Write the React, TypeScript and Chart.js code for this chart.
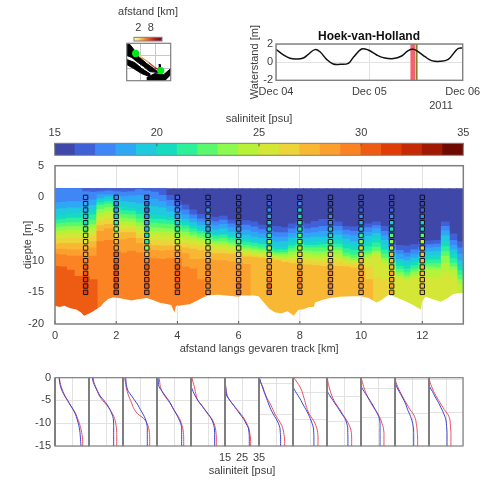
import React, { useEffect, useRef } from "react";
import { Chart, registerables } from "chart.js";

const INK = "#404040";
const FRAME = "#7f7f7f";
const GRID = "#e2e2e2";

// --- water level
const tideHours = [0, 1.9, 3.6, 5.3, 7, 8.3, 10, 11.3, 13, 14.7, 16.5, 18.6, 19.9, 22, 23.7, 25.9, 27.6, 30.2, 32.3, 34, 35.3, 36.8, 38.3, 40, 42.2, 44.3, 46, 46.9, 48];
const tideLevel = [1.41, 0.8, 0.42, 0.35, 0.46, 0.86, 1.38, 1.15, 0.31, -0.2, -0.24, -0.13, 0.53, 1.45, 1.34, 0.79, 0.5, 0.39, 0.68, 1.27, 1.41, 1.08, 0.6, 0.17, 0.09, 0.31, 1.15, 1.52, 1.56];
const tideDates = ["Dec 04", "Dec 05", "Dec 06"];

// --- map inset (map units)
const landNorth = [[0, 36], [3, 36], [7, 31], [9, 27], [13, 23], [20, 17], [27, 12], [32, 8], [23, 9], [17, 14], [10, 19], [5, 23], [0, 25]];
const landSouth = [[0, 21], [8, 18], [15, 12], [23, 7], [23, 4], [15, 7], [7, 12], [0, 16]];
const landEast = [[20, 3], [28, 7], [37, 6], [44, 12], [44, 6], [38, 0], [20, 0]];
const landIslet = [[32, 16], [33.5, 16], [33.5, 13], [32, 13]];
const trackX = [9, 15, 22, 28, 34];
const trackY = [27, 23, 18, 13, 10];
const trackColors = ["#f5d060", "#e89a40", "#c8502a", "#8e1a20"];
const distanceKm = [0.5, 1.5, 2.5, 3.5, 4.5, 5.5, 6.5, 7.5, 8.5, 9.5, 10.5, 11.5, 12.5, 13.5];
const distanceColors = ["#fff2c0", "#fde8a0", "#fbd878", "#f8c058", "#f5a540", "#f08a30", "#e87028", "#de5822", "#d0401e", "#bc2c1e", "#a81e20", "#941622", "#801020", "#801020"];

// --- colour scale: one entry per psu from 15 to 34
const salinityColors = ["#3f48a8", "#4060d8", "#3f86f6", "#2ea8f5", "#1fc9de", "#15dcc0", "#2cf09a", "#5af86c", "#8cfa4e", "#b8f238", "#d4e636", "#ecd43a", "#f8b834", "#fb9f2e", "#fb8324", "#ee5c14", "#e03c08", "#c42a04", "#a01a02", "#6e0a00"];
const salinityBins = [15.5, 16.5, 17.5, 18.5, 19.5, 20.5, 21.5, 22.5, 23.5, 24.5, 25.5, 26.5, 27.5, 28.5, 29.5, 30.5, 31.5, 32.5, 33.5, 34.5];

// --- section: depth of each psu boundary per column
const columnKm = [0, 0.25, 0.5, 0.75, 1, 1.25, 1.5, 1.75, 2, 2.25, 2.5, 2.75, 3, 3.25, 3.5, 3.75, 4, 4.25, 4.5, 4.75, 5, 5.25, 5.5, 5.75, 6, 6.25, 6.5, 6.75, 7, 7.25, 7.5, 7.75, 8, 8.25, 8.5, 8.75, 9, 9.25, 9.5, 9.75, 10, 10.25, 10.5, 10.75, 11, 11.25, 11.5, 11.75, 12, 12.25, 12.5, 12.75, 13, 13.25];
const surface = [1.35, 1.35, 1.35, 1.35, 1.35, 1.35, 1.35, 1.35, 1.35, 1.35, 1.35, 1.35, 1.35, 1.35, 1.35, 1.35, 1.35, 1.35, 1.35, 1.35, 1.35, 1.35, 1.35, 1.35, 1.35, 1.35, 1.35, 1.35, 1.35, 1.35, 1.35, 1.35, 1.35, 1.35, 1.35, 1.35, 1.35, 1.35, 1.35, 1.35, 1.35, 1.35, 1.35, 1.35, 1.35, 1.35, 1.35, 1.35, 1.35, 1.35, 1.35, 1.35, 1.35, 1.35];
const iso16 = [1.35, 1.35, 1.35, 1.35, 1.35, 1.35, 1.35, 1.35, 1.35, 1.35, 1.35, 1.35, 1.35, 1.35, 1.35, 0.3, -0.7, -1.2, -2, -2.7, -3, -3.2, -3, -3.6, -3.9, -3.7, -3.9, -4.4, -4.6, -4.6, -4.8, -4.2, -3.9, -4.2, -3.8, -3.5, -3.5, -3.9, -4.6, -4.7, -4.6, -4.2, -3.9, -4.6, -6.9, -7.6, -7.7, -7.5, -7, -6.9, -6.8, -3.9, -5.8, -7];
const iso17 = [1.35, 1.35, 1.35, 1.35, 0.9, 0.8, 0.9, 1, 0.9, 0.8, 0.9, 1.2, 1, 0.8, 0.3, -0.5, -1.3, -2, -2.8, -3.4, -3.7, -3.9, -3.6, -4.2, -4.6, -4.4, -4.7, -5.1, -5.4, -5.6, -5.6, -5, -4.6, -5, -4.8, -4.6, -4.6, -4.6, -5.2, -5.4, -5.4, -4.8, -4.5, -5.4, -7.6, -8.4, -8.8, -8.3, -7.9, -7.5, -7.4, -4.6, -6.8, -8];
const iso18 = [-0.9, -0.8, -0.7, -0.7, -0.7, -0.4, 0.4, 0.4, 0.3, 0.1, 0.2, 0.3, 0, -0.3, -0.7, -1.4, -2.2, -2.8, -3.4, -3.9, -4.2, -4.5, -4.3, -4.8, -5.3, -5.2, -5.5, -5.8, -6.1, -6.3, -6.3, -5.7, -5.3, -5.7, -5.6, -5.4, -5.4, -5.3, -5.9, -6.1, -6.1, -5.5, -5, -6.1, -8.1, -9, -9.4, -9, -8.6, -8, -7.9, -5.3, -7.6, -9];
const iso19 = [-1.9, -1.8, -1.7, -1.7, -1.6, -1.3, -0.2, 0.1, -0.2, -0.7, -0.8, -1, -1.2, -1.5, -1.7, -2.3, -2.9, -3.5, -4, -4.5, -4.9, -5.2, -5, -5.5, -6, -6, -6.3, -6.5, -6.9, -7.1, -7, -6.4, -6.1, -6.4, -6.3, -6.3, -6.2, -6, -6.6, -7, -7, -6.2, -5.7, -6.8, -8.7, -9.8, -10, -9.6, -9.2, -8.6, -8.5, -6.1, -8.3, -10];
const iso20 = [-3, -2.9, -2.7, -2.5, -2.4, -2.1, -0.5, -0.3, -0.9, -1.5, -1.7, -2.1, -2.5, -2.8, -2.9, -3.2, -3.5, -4, -4.6, -5.1, -5.5, -5.9, -5.8, -6.1, -6.6, -6.7, -7, -7.2, -7.7, -7.9, -7.9, -7.2, -6.9, -7.2, -7, -7, -6.9, -6.8, -7.4, -7.7, -7.7, -7, -6.4, -7.6, -9.2, -10.3, -10.7, -10.2, -9.8, -9.2, -9.2, -7, -9, -10.9];
const iso21 = [-3.6, -3.5, -3.3, -3.3, -3.1, -2.8, -0.9, -0.7, -1.6, -2.1, -2.2, -2.7, -3.3, -3.5, -3.5, -3.7, -4, -4.5, -5, -5.4, -5.8, -6.1, -6, -6.4, -7, -7.1, -7.3, -7.5, -8.1, -8.3, -8.3, -7.7, -7.3, -7.6, -7.6, -7.5, -7.4, -7.4, -8.1, -8.4, -8.4, -7.8, -7.2, -8.3, -9.8, -10.9, -11.3, -10.8, -10.3, -9.9, -9.9, -7.8, -9.7, -11.6];
const iso22 = [-4.2, -4.1, -4, -4, -3.9, -3.6, -1.3, -1.1, -2.3, -2.7, -2.8, -3.4, -4, -4.1, -4.2, -4.3, -4.6, -5, -5.5, -5.8, -6.2, -6.6, -6.5, -6.9, -7.5, -7.6, -7.8, -8, -8.5, -8.7, -8.7, -8.1, -7.7, -8, -8, -8, -7.9, -7.9, -8.8, -9.1, -9.1, -8.5, -7.9, -9, -10.3, -11.4, -11.9, -11.3, -10.8, -10.5, -10.5, -8.6, -10.4, -12.3];
const iso23 = [-4.8, -4.7, -4.6, -4.6, -4.5, -4.3, -1.9, -1.6, -3, -3.3, -3.4, -4, -4.7, -4.8, -4.9, -5, -5.2, -5.5, -6, -6.3, -6.7, -7, -7, -7.3, -7.9, -8, -8.2, -8.4, -8.8, -9, -9, -8.6, -8.3, -8.5, -8.6, -8.6, -8.5, -8.4, -9.3, -9.6, -9.6, -9, -8.5, -9.6, -10.8, -11.9, -12.4, -11.8, -11.3, -11, -11.1, -9.3, -11, -13];
const iso24 = [-5.4, -5.3, -5.2, -5.2, -5.1, -4.9, -2.5, -2.2, -3.6, -3.9, -4, -4.6, -5.3, -5.4, -5.5, -5.6, -5.8, -6.1, -6.4, -6.7, -7.1, -7.4, -7.4, -7.7, -8.2, -8.3, -8.5, -8.7, -9.1, -9.3, -9.4, -9.1, -8.8, -9, -9.2, -9.1, -9.1, -9, -9.7, -10, -10, -9.4, -8.8, -10, -11.2, -12.4, -12.8, -12.3, -11.8, -11.4, -11.4, -10.4, -11.5, -13.8];
const iso25 = [-6, -5.9, -5.8, -5.8, -5.7, -5.5, -3.1, -2.8, -4.2, -4.4, -4.6, -5.2, -5.9, -6, -6.2, -6.2, -6.4, -6.7, -6.9, -7.1, -7.5, -7.8, -7.8, -8.1, -8.5, -8.7, -8.9, -9, -9.3, -9.6, -9.7, -9.5, -9.3, -9.5, -9.7, -9.7, -9.7, -9.6, -10, -10.2, -10.2, -9.7, -9.3, -10.5, -11.7, -12.7, -13.2, -12.7, -12.5, -12.6, -12.8, -12, -12.6, -20];
const iso26 = [-6.7, -6.6, -6.5, -6.5, -6.4, -6.2, -3.8, -3.5, -4.9, -5, -5, -5.8, -6.6, -6.8, -6.9, -6.9, -7, -7.3, -7.5, -7.7, -8.1, -8.3, -8.3, -8.6, -8.9, -9.1, -9.3, -9.4, -9.5, -9.8, -10, -10, -9.9, -10, -10.2, -10.3, -10.3, -10.2, -10.5, -10.5, -10.6, -11, -12.7, -13];
const iso27 = [-7.4, -7.3, -7.3, -7.3, -7.3, -7, -4.5, -4.3, -5.9, -5.6, -5.6, -6.5, -7.3, -7.6, -7.7, -7.7, -7.7, -8, -8.2, -8.4, -8.8, -8.9, -8.9, -9, -9.3, -9.4, -9.5, -9.6, -9.7, -10, -10.3, -10.5, -10.6, -10.7, -10.8, -10.9, -10.9, -10.9, -11, -11.2, -11.3, -13];
const iso28 = [-8.2, -8.2, -8.3, -8.3, -8.3, -8, -5.4, -5, -6.9, -6.7, -6.5, -7.3, -8, -8.4, -8.5, -8.4, -8.4, -8.9, -9.8, -9.8, -9.8, -10, -10, -10.2, -10.4, -10.6];
const iso29 = [-9, -9.1, -9.3, -9.3, -9.4, -9.3, -7, -6.8, -8.5, -8.8, -8.5, -8.8, -9.5, -9.7, -9.8, -9.7, -9.6, -11, -11.3, -13];
const iso30 = [-10.9, -11, -11.5, -12.5, -12.5, -13];
const bandTops = [surface, iso16, iso17, iso18, iso19, iso20, iso21, iso22, iso23, iso24, iso25, iso26, iso27, iso28, iso29, iso30];

const bedKm = [0, 0.15, 0.3, 0.5, 0.7, 0.85, 0.95, 1.1, 1.25, 1.4, 1.5, 1.6, 1.75, 1.9, 2.1, 2.3, 2.5, 2.7, 3, 3.2, 3.4, 3.6, 3.8, 3.9, 3.95, 4.2, 4.4, 4.6, 4.8, 5, 5.3, 5.6, 6, 6.1, 6.5, 6.65, 6.8, 7, 7.2, 7.4, 7.6, 7.8, 7.95, 8.1, 8.3, 8.45, 8.5, 8.8, 9, 9.3, 9.7, 10, 10.25, 10.5, 10.65, 10.9, 11.1, 11.4, 11.7, 11.95, 12, 12.1, 12.3, 12.6, 12.8, 13, 13.2, 13.34];
const bedDepth = [-17.1, -17.3, -17.1, -17.5, -17.7, -18.2, -18.7, -18.4, -18, -17.5, -17.2, -16.6, -16, -15.8, -15.9, -16.1, -16.3, -16.1, -15.9, -16.2, -16.6, -16.8, -17, -18.2, -17.2, -17, -16.9, -16.4, -15.9, -15.5, -15.4, -15.5, -15.7, -15.5, -15.5, -15.6, -16.5, -17.6, -18.2, -18.3, -18, -18.7, -17.8, -17.7, -17.3, -17.3, -16.6, -16.1, -15.9, -15.7, -15.6, -15.6, -15.9, -16.6, -16.3, -15.4, -15.7, -16.3, -17, -17.7, -16.5, -15.7, -16, -16.5, -16, -15.3, -15.1, -15.1];

// --- CTD stations
const stationKm = [1, 2, 3, 4, 5, 6, 7, 8, 9, 10, 11, 12];
const profileDepth = [0, -1, -2, -3, -4, -5, -6, -7, -8, -9, -10, -11, -12, -13, -14, -15];
const redProfiles = [
  [17.5, 18, 18.7, 19.7, 20.9, 22.3, 24, 25.8, 27.3, 28.3, 29.3, 30.1, 30.7, 31.1, 31.3, 31.3],
  [17.4, 17.9, 18.9, 19.9, 21.1, 23, 25.4, 27.3, 28.9, 30.1, 30.7, 31.1, 31.3, 31.3, 31.3, 31.3],
  [16, 16.4, 16.8, 17.5, 18.3, 19.5, 20.5, 21.7, 23.8, 27.3, 29.1, 30.1, 30.5, 30.7, 30.7, 30.7],
  [16.2, 16.6, 17, 17.9, 19.5, 21.5, 23.4, 24.8, 26.6, 28.3, 29.3, 30.1, 30.5, 30.7, 30.7, 30.7],
  [15.6, 16.2, 17, 17.5, 18.1, 18.9, 21.1, 23.2, 25.2, 27.2, 28.5, 29.3, 29.7, 29.9, 29.9, 29.9],
  [15, 15.2, 15.4, 15.8, 16.4, 17.9, 19.9, 22.2, 24.4, 26.3, 27.7, 28.9, 29.5, 29.9, 30.1, 30.1],
  [15.2, 16, 17.2, 18.1, 19.1, 20.5, 21.9, 23.2, 24.4, 26, 27.7, 28.9, 29.5, 29.9, 30.1, 30.1],
  [15.4, 17.4, 19.1, 20.3, 21.1, 21.9, 22.6, 23.4, 24.6, 26.4, 27.9, 28.9, 29.5, 29.7, 29.7, 29.7],
  [15.2, 15.6, 16.2, 17, 17.9, 19.1, 20.7, 22.6, 24.2, 26, 27.5, 28.7, 29.3, 29.5, 29.5, 29.5],
  [15, 15.8, 16.6, 17.5, 18.7, 19.9, 21.5, 23.2, 25, 26.4, 27.3, 28.1, 28.5, 28.5, 28.5, 28.5],
  [15, 15.6, 16.6, 17.9, 19.3, 20.7, 22.3, 23.8, 25.8, 27, 27.5, 27.9, 28.1, 28.3, 28.3, 28.3],
  [15, 15.6, 16.6, 17.7, 19.1, 20.7, 22.3, 24, 26, 27.2, 27.5, 27.7, 27.9, 27.9, 27.9, 27.9],
];
const blueProfiles = [
  [17.4, 17.7, 18.3, 19.3, 20.7, 22.5, 24, 25.6, 27, 27.9, 28.7, 29.3, 29.7, 29.9, 30.1, 30.3],
  [17, 17.5, 18.7, 20.1, 21.5, 23.8, 25.8, 27.3, 28.5, 29.3, 29.5, 29.5, 29.5, 29.5, 29.5, 29.5],
  [16.6, 16.8, 17.2, 18.1, 20.1, 21.9, 23.8, 25.2, 26.8, 28.1, 28.9, 29.3, 29.3, 29.3, 29.3, 29.3],
  [15.6, 15.8, 16.2, 18.1, 19.9, 21.9, 23.4, 24.8, 26.4, 27.7, 28.9, 29.5, 29.5, 29.5, 29.5, 29.5],
  [15.2, 15.2, 15.2, 16.2, 17.5, 19.1, 21.1, 23, 25, 26.9, 28.1, 28.7, 28.9, 28.9, 28.9, 28.9],
  [15, 15.2, 15.4, 15.6, 16, 17.9, 19.9, 21.9, 23.8, 25.8, 27.3, 28.7, 29.1, 29.3, 29.3, 29.3],
  [15.2, 16, 17, 17.9, 18.9, 19.9, 20.9, 22, 23.4, 25, 26.4, 27.3, 27.5, 27.7, 27.7, 27.7],
  [15, 15, 15, 16.4, 18.1, 19.7, 21.1, 22.6, 24, 25.2, 26.2, 27, 27.2, 27.3, 27.3, 27.3],
  [15, 15, 15, 15.2, 16.8, 18.5, 20.3, 22.1, 23.8, 25.6, 26.6, 27.2, 27.2, 27.3, 27.3, 27.3],
  [15, 15, 15.2, 16.8, 18.5, 20.3, 21.9, 23.4, 24.8, 25.8, 26.2, 26.2, 26.2, 26.2, 26.2, 26.2],
  [15, 15.2, 16, 17.4, 18.9, 20.3, 21.5, 22.4, 23.6, 24.6, 25.4, 25.8, 26, 26, 26, 26],
  [15, 15, 15.4, 17, 18.3, 19.9, 21.3, 22.6, 23.8, 24.8, 25.2, 25.4, 25.6, 25.6, 25.6, 25.6],
];
const panelGrid = [
  [0, -5, -10, -15], [-5, -10], [-5, -10], [-5, -10], [-5, -10], [-5, -10],
  [-1.2, -8], [-3.2, -9.1], [-4.2, -9.7], [-2.3, -8.7], [-0.5, -7.8], [-0.5, -7.7],
];

const W = 490;
const H = 480;
const FONT = "11px 'Liberation Sans'";

const framePlugin = {
  id: "frame",
  afterDatasetsDraw(chart: any, _a: any, o: any) {
    const { ctx, chartArea: a } = chart;
    const x = chart.scales.x;
    ctx.save();
    if (o.bed) {
      ctx.strokeStyle = GRID;
      ctx.lineWidth = 1;
      x.ticks.forEach((t: any) => {
        const i = bedKm.findIndex((k) => k >= t.value);
        const px = x.getPixelForValue(t.value);
        ctx.beginPath();
        ctx.moveTo(px, a.bottom);
        ctx.lineTo(px, chart.scales.y.getPixelForValue(bedDepth[i]));
        ctx.stroke();
      });
    }
    ctx.strokeStyle = "#555555";
    ctx.lineWidth = 1;
    if (o.tick) {
      x.ticks.forEach((t: any) => {
        const px = x.getPixelForValue(t.value);
        ctx.beginPath();
        if (o.tickTop) {
          ctx.moveTo(px, a.top);
          ctx.lineTo(px, a.top + o.tick);
        } else {
          ctx.moveTo(px, a.bottom);
          ctx.lineTo(px, a.bottom - o.tick);
        }
        ctx.stroke();
      });
    }
    ctx.strokeStyle = FRAME;
    ctx.lineWidth = o.width ?? 1.4;
    ctx.strokeRect(a.left, a.top, a.right - a.left, a.bottom - a.top);
    if (o.left) {
      ctx.lineWidth = o.left;
      ctx.beginPath();
      ctx.moveTo(a.left, a.top);
      ctx.lineTo(a.left, a.bottom);
      ctx.stroke();
    }
    (o.notes ?? []).forEach((n: any) => {
      ctx.fillStyle = n.color ?? INK;
      ctx.font = n.font;
      ctx.textAlign = "center";
      ctx.textBaseline = "middle";
      ctx.fillText(n.text, n.x, n.y);
    });
    ctx.restore();
  },
};

Chart.register(...registerables, framePlugin);
Chart.defaults.font.family = "'Liberation Sans', Arial, sans-serif";
Chart.defaults.font.size = 11;
Chart.defaults.color = INK;

const fixW = (w: number) => (s: any) => {
  s.width = w;
};
const fixH = (h: number) => (s: any) => {
  s.height = h;
};
const setTicks = (vals: number[]) => (s: any) => {
  s.ticks = vals.map((value) => ({ value }));
};

function area(left: number, top: number, right: number, bottom: number, yW: number, xH: number, xTop = false) {
  return {
    padding: {
      left: left - yW,
      right: W - right,
      top: xTop ? top - xH : top,
      bottom: xTop ? H - bottom : H - bottom - xH,
    },
  };
}

function base(layout: any, scales: any, frame: any = {}) {
  return {
    responsive: false,
    animation: false as const,
    events: [],
    layout,
    scales,
    plugins: { legend: { display: false }, tooltip: { enabled: false }, frame },
  };
}

const hiddenY = (w: number, extra: any = {}) => ({
  afterFit: fixW(w),
  ticks: { display: false },
  grid: { display: false, drawTicks: false },
  border: { display: false },
  ...extra,
});

function buildConfigs(): any[] {
  const list: any[] = [];

  // map colour bar
  list.push({
    type: "bar",
    data: {
      datasets: [
        {
          data: distanceKm.map((x) => ({ x, y: 1 })),
          backgroundColor: distanceColors,
          barPercentage: 1,
          categoryPercentage: 1,
          inflateAmount: 0.5,
        },
      ],
    },
    options: base(
      area(134, 37.3, 162, 41, 0, 32, true),
      {
        x: {
          type: "linear",
          position: "top",
          offset: false,
          min: 0,
          max: 13.34,
          afterFit: fixH(32),
          afterBuildTicks: setTicks([2, 8]),
          grid: { display: false, offset: false, drawTicks: false },
          border: { display: false },
          ticks: { padding: 3, maxRotation: 0, autoSkip: false },
        },
        y: hiddenY(0, { min: 0, max: 1 }),
      },
      { width: 1, notes: [{ text: "afstand [km]", x: 148, y: 12, font: FONT }] },
    ),
  });

  // map
  const poly = (pts: number[][]) => ({
    type: "scatter",
    showLine: true,
    data: pts.map(([x, y]) => ({ x, y })),
    backgroundColor: "#000000",
    borderColor: "#000000",
    borderWidth: 1,
    fill: "shape",
    pointRadius: 0,
    order: 5,
  });
  list.push({
    type: "scatter",
    data: {
      datasets: [
        {
          showLine: false,
          data: [trackX[0], trackX[trackX.length - 1]].map((x, i) => ({ x, y: i === 0 ? trackY[0] : trackY[trackY.length - 1] })),
          pointStyle: "circle",
          pointRadius: 3.6,
          pointBackgroundColor: "#00e81a",
          pointBorderWidth: 0,
          order: 1,
        },
        {
          showLine: true,
          data: trackX.map((x, i) => ({ x, y: trackY[i] })),
          borderWidth: 1.4,
          pointRadius: 0,
          segment: { borderColor: (c: any) => trackColors[c.p0DataIndex] },
          order: 2,
        },
        poly(landNorth),
        poly(landSouth),
        poly(landEast),
        poly(landIslet),
      ],
    },
    options: base(
      area(126.7, 43.3, 170.7, 80.7, 0, 5),
      {
        x: {
          type: "linear",
          min: 0,
          max: 44,
          afterFit: fixH(5),
          afterBuildTicks: setTicks([14, 29]),
          ticks: { display: false },
          grid: { color: "#c8c8c8", drawTicks: false },
          border: { display: false },
        },
        y: {
          min: 0,
          max: 37,
          afterFit: fixW(0),
          afterBuildTicks: setTicks([12, 25]),
          ticks: { display: false },
          grid: { color: "#c8c8c8", drawTicks: false },
          border: { display: false },
        },
      },
      { width: 1.2 },
    ),
  });

  // water level
  list.push({
    type: "bar",
    data: {
      datasets: [
        {
          type: "line",
          data: tideHours.map((x, i) => ({ x, y: tideLevel[i] })),
          borderColor: "#111111",
          borderWidth: 1.5,
          pointRadius: 0,
          tension: 0.4,
          order: 1,
        },
        {
          data: [{ x: 36.2, y: [-2, 2] }],
          backgroundColor: "#7d7a20",
          barThickness: 1.5,
          grouped: false,
          inflateAmount: 0,
          order: 2,
        },
        {
          data: [{ x: 35.2, y: [-2, 2] }],
          backgroundColor: "#f2636c",
          barThickness: 5,
          grouped: false,
          inflateAmount: 0,
          order: 3,
        },
      ],
    },
    options: base(
      area(276, 44, 462.7, 80.3, 27.6, 20),
      {
        x: {
          type: "linear",
          offset: false,
          min: 0,
          max: 48,
          afterFit: fixH(20),
          grid: { color: GRID, drawTicks: false, offset: false },
          border: { display: false },
          ticks: { stepSize: 24, padding: 5, maxRotation: 0, callback: (v: number) => tideDates[v / 24] },
        },
        y: {
          min: -2,
          max: 2,
          afterFit: fixW(27.6),
          grid: { color: GRID, drawTicks: false },
          border: { display: false },
          ticks: { stepSize: 2, padding: 3 },
          title: { display: true, text: "Waterstand [m]", padding: 0, color: INK, font: { size: 11 } },
        },
      },
      {
        notes: [
          { text: "Hoek-van-Holland", x: 369, y: 37, font: "bold 12px 'Liberation Sans'", color: "#111111" },
          { text: "2011", x: 441, y: 106, font: FONT },
        ],
      },
    ),
  });

  // salinity colour bar
  list.push({
    type: "bar",
    data: {
      datasets: [
        {
          data: salinityBins.map((x) => ({ x, y: 1 })),
          backgroundColor: salinityColors,
          barPercentage: 1,
          categoryPercentage: 1,
          inflateAmount: 0.5,
        },
      ],
    },
    options: base(
      area(54.7, 143.3, 463.3, 155.3, 0, 31, true),
      {
        x: {
          type: "linear",
          position: "top",
          offset: false,
          min: 15,
          max: 35,
          afterFit: fixH(31),
          grid: { display: false, offset: false, drawTicks: false },
          border: { display: false },
          ticks: { stepSize: 5, padding: 4, maxRotation: 0 },
          title: { display: true, text: "saliniteit [psu]", padding: 0, color: INK, font: { size: 11 } },
        },
        y: hiddenY(0, { min: 0, max: 1 }),
      },
      { tick: 3, tickTop: true, width: 1 },
    ),
  });

  // section
  const bands = bandTops.map((tops, k) => ({
    data: tops.map((v, i) => ({ x: columnKm[i], y: [-20, v] })),
    backgroundColor: salinityColors[k],
    barPercentage: 1,
    categoryPercentage: 1,
    grouped: false,
    inflateAmount: 0.5,
    order: 100 - k,
  }));
  const markerColors = redProfiles.flatMap((p) => p.map((s) => salinityColors[Math.floor(s) - 15]));
  list.push({
    type: "bar",
    data: {
      datasets: [
        ...bands,
        {
          type: "line",
          data: bedKm.map((x, i) => ({ x, y: bedDepth[i] })),
          borderWidth: 0,
          pointRadius: 0,
          fill: "start",
          backgroundColor: "#ffffff",
          order: 3,
        },
        {
          type: "scatter",
          showLine: false,
          data: stationKm.flatMap((x) => profileDepth.map((y) => ({ x, y }))),
          pointStyle: "rect",
          pointRadius: 3.1,
          pointBackgroundColor: markerColors,
          pointBorderColor: "rgba(15,15,25,0.95)",
          pointBorderWidth: 1,
          order: 1,
        },
      ],
    },
    options: base(
      area(55, 165.7, 463.3, 324, 33.3, 31.6),
      {
        x: {
          type: "linear",
          offset: false,
          min: 0,
          max: 13.34,
          afterFit: fixH(31.6),
          grid: { color: GRID, drawTicks: false, offset: false },
          border: { display: false },
          ticks: { stepSize: 2, includeBounds: false, padding: 5, maxRotation: 0 },
          title: { display: true, text: "afstand langs gevaren track [km]", padding: 0, color: INK, font: { size: 11 } },
        },
        y: {
          min: -20,
          max: 5,
          afterFit: fixW(33.3),
          grid: { display: false },
          border: { display: false },
          ticks: { stepSize: 5, padding: 3 },
          title: { display: true, text: "diepte [m]", padding: 0, color: INK, font: { size: 11 } },
        },
      },
      { tick: 3, bed: true, width: 1.5 },
    ),
  });

  // profile panels
  stationKm.forEach((_km, p) => {
    const l = 55 + 34 * p;
    const r = l + 34;
    const first = p === 0;
    const labelled = p === 5;
    const curve = (vals: number[], color: string) => ({
      showLine: true,
      data: vals.map((x, i) => ({ x, y: profileDepth[i] })),
      borderColor: color,
      borderWidth: 1,
      pointRadius: 0,
      tension: 0.3,
    });
    list.push({
      type: "scatter",
      data: { datasets: [curve(blueProfiles[p], "#3d45d0"), curve(redProfiles[p], "#e8505f")] },
      options: base(
        area(l, 377.7, r, 446, first ? 30 : 0, 20),
        {
          x: {
            type: "linear",
            min: 15,
            max: 35,
            afterFit: fixH(20),
            grid: { color: GRID, drawTicks: false },
            border: { display: false },
            ticks: { display: labelled, stepSize: 10, padding: 5, maxRotation: 0, autoSkip: false },
          },
          y: {
            min: -15,
            max: 0,
            afterFit: fixW(first ? 30 : 0),
            afterBuildTicks: setTicks(panelGrid[p]),
            grid: { color: GRID, drawTicks: false },
            border: { display: false },
            ticks: { display: first, padding: 4, autoSkip: false },
          },
        },
        { width: 1.2, left: 2, notes: labelled ? [{ text: "saliniteit [psu]", x: 242, y: 471, font: FONT }] : [] },
      ),
    });
  });
  return list;
}

export default function App() {
  const host = useRef<HTMLDivElement>(null);
  useEffect(() => {
    const charts = buildConfigs().map((cfg) => {
      const c = document.createElement("canvas");
      c.width = W;
      c.height = H;
      c.style.cssText = `position:absolute;left:0;top:0;width:${W}px;height:${H}px;`;
      host.current!.appendChild(c);
      return { c, chart: new Chart(c, cfg) };
    });
    return () => {
      charts.forEach(({ c, chart }) => {
        chart.destroy();
        c.remove();
      });
    };
  }, []);
  return <div ref={host} style={{ position: "fixed", left: 0, top: 0, width: W, height: H, background: "#fff", filter: "blur(0.35px)" }} />;
}
